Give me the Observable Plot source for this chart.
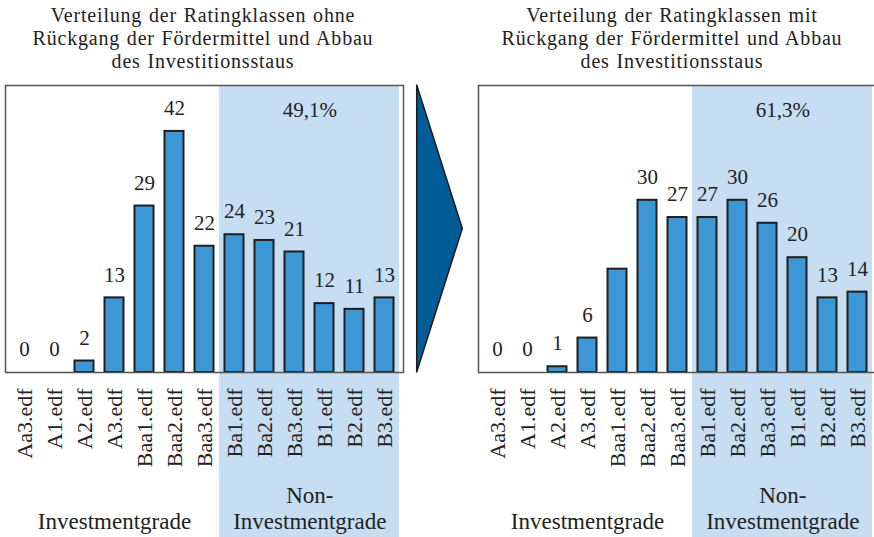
<!DOCTYPE html>
<html><head><meta charset="utf-8">
<script src="https://cdn.jsdelivr.net/npm/d3@7"></script>
<script src="https://cdn.jsdelivr.net/npm/@observablehq/plot@0.6"></script>
<style>
body{margin:0;background:#fff;}
#wrap{position:relative;width:874px;height:537px;overflow:hidden;font-family:"Liberation Serif",serif;color:#222;}
.title{position:absolute;top:4px;text-align:center;font-size:20px;line-height:23px;letter-spacing:0.8px;word-spacing:1px;color:#222;}
.plot{position:absolute;}
</style></head><body>
<div id="wrap"></div>
<script>
// ---- data ----
const categories = ["Aa3.edf","A1.edf","A2.edf","A3.edf","Baa1.edf","Baa2.edf","Baa3.edf","Ba1.edf","Ba2.edf","Ba3.edf","B1.edf","B2.edf","B3.edf"];
const nonInvestmentCategories = ["Ba1.edf","Ba2.edf","Ba3.edf","B1.edf","B2.edf","B3.edf"];
const valuesWithout = [0,0,2,13,29,42,22,24,23,21,12,11,13];
const labelsWithout = ["0","0","2","13","29","42","22","24","23","21","12","11","13"];
const valuesWith = [0,0,1,6,18,30,27,27,30,26,20,13,14];
const labelsWith = ["0","0","1","6","","30","27","27","30","26","20","13","14"];
const shares = ["49,1%","61,3%"];
const titles = [
  "Verteilung der Ratingklassen ohne<br>Rückgang der Fördermittel und Abbau<br>des Investitionsstaus",
  "Verteilung der Ratingklassen mit<br>Rückgang der Fördermittel und Abbau<br>des Investitionsstaus"
];
const groupLabels = ["Investmentgrade","Non-\nInvestmentgrade"];
const groupAnchors = ["A3.edf","Ba3.edf"];
const arrowX = [0,1], arrowLow = [0,0.5], arrowHigh = [1,0.5];

const wrap = document.getElementById("wrap");

function panel(values, labels, share, ml, mr, w) {
  const data = categories.map((c,i)=>({cat:c, value:values[i], label:labels[i]}));
  const bw = (w - ml - mr) / categories.length;
  return Plot.plot({
    width: w, height: 462, marginTop: 10, marginBottom: 165, marginLeft: ml, marginRight: mr,
    x: {domain: categories, padding: 0, axis: null},
    y: {domain: [0, 50], axis: null},
    style: {fontFamily: "'Liberation Serif', serif", fontSize: "22px", color: "#222", background: "transparent", overflow: "visible"},
    marks: [
      Plot.barY(nonInvestmentCategories, {x: d => d, y1: 0, y2: 50, fill: "#c7ddf1", insetBottom: -165}),
      Plot.axisX({tickSize: 0, tickPadding: 16, tickRotate: -90, label: null, fontSize: 22, fill: "#222"}),
      Plot.barY(data, {x: "cat", y: "value", fill: "#3d97d4", stroke: "#1e1e1e", strokeWidth: 2, insetLeft: 5.5, insetRight: 5.5}),
      Plot.frame({stroke: "#555", strokeWidth: 1.5}),
      Plot.text(data.filter(d => d.label !== ""), {x: "cat", y: "value", text: "label", dy: -23, fontSize: 21, fill: "#222"}),
      Plot.text([share], {x: () => "Ba3.edf", text: d => d, dx: bw/2, frameAnchor: "top", lineAnchor: "middle", dy: 25, fontSize: 21, fill: "#222"}),
      Plot.text([0], {x: () => groupAnchors[0], text: () => groupLabels[0], frameAnchor: "bottom", lineAnchor: "bottom", dy: 156, fontSize: 23, fill: "#222"}),
      Plot.text([0], {x: () => groupAnchors[1], text: () => groupLabels[1], dx: bw/2, frameAnchor: "bottom", lineAnchor: "bottom", dy: 156, lineHeight: 1.09, fontSize: 23, fill: "#222"})
    ]
  });
}

function place(el, left, top) {
  el.classList.add("plot");
  el.style.left = left + "px";
  el.style.top = top + "px";
  el.style.maxWidth = "none";
  wrap.appendChild(el);
}

place(panel(valuesWithout, labelsWithout, shares[0], 5, 7, 410), 0, 75);
place(panel(valuesWith, labelsWith, shares[1], 8, 1, 406), 470, 75);

const arrow = Plot.plot({
  width: 60, height: 310, marginTop: 10, marginBottom: 13, marginLeft: 6.7, marginRight: 7.7,
  x: {domain: [0,1], axis: null},
  y: {domain: [0,1], axis: null},
  style: {background: "transparent", overflow: "visible"},
  marks: [
    Plot.areaY(arrowX.map((x,i)=>({x, lo: arrowLow[i], hi: arrowHigh[i]})), {x: "x", y1: "lo", y2: "hi", fill: "#005b96", stroke: "#1a1a1a", strokeWidth: 1.5})
  ]
});
place(arrow, 410, 75);

titles.forEach((t,i) => {
  const d = document.createElement("div");
  d.className = "title";
  d.innerHTML = t;
  d.style.left = (i === 0 ? 0 : 470) + "px";
  d.style.width = (i === 0 ? 406 : 404) + "px";
  wrap.appendChild(d);
});
</script>
</body></html>
